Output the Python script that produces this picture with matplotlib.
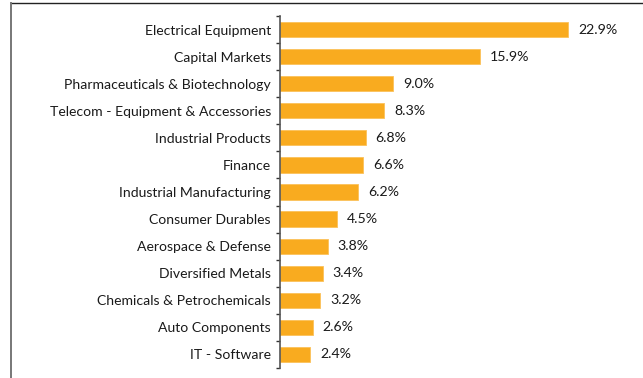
import matplotlib
matplotlib.use("Agg")
import matplotlib.pyplot as plt
from matplotlib.lines import Line2D
import numpy as np

sectors = [
    "Electrical Equipment",
    "Capital Markets",
    "Pharmaceuticals & Biotechnology",
    "Telecom - Equipment & Accessories",
    "Industrial Products",
    "Finance",
    "Industrial Manufacturing",
    "Consumer Durables",
    "Aerospace & Defense",
    "Diversified Metals",
    "Chemicals & Petrochemicals",
    "Auto Components",
    "IT - Software",
]
weights = [22.9, 15.9, 9.0, 8.3, 6.8, 6.6, 6.2, 4.5, 3.8, 3.4, 3.2, 2.6, 2.4]

plt.rcParams["font.family"] = ["Lato", "DejaVu Sans"]

W, H = 643, 378
fig = plt.figure(figsize=(W / 100, H / 100), dpi=100)
ax = fig.add_axes([280 / W, 1 - 368 / H, 340 / W, 352 / H])

n = len(sectors)
y = np.arange(n)
ax.barh(y, weights, height=0.56, color="#F9AB1F", edgecolor="#FBC15A", linewidth=0.6)

ax.set_xlim(0, 340 / 12.58)
ax.set_ylim(n - 0.5, -0.5)

for yi, v in zip(y, weights):
    ax.annotate(f"{v:.1f}%", (v, yi), xytext=(10, 0), textcoords="offset pixels",
                va="center", ha="left", fontsize=10.2, color="#1a1a1a")

ax.set_yticks(y)
ax.set_yticklabels(sectors, fontsize=10.1, color="#1a1a1a")
ax.tick_params(axis="y", which="major", length=0, pad=6.5)
ax.set_yticks(np.arange(n + 1) - 0.5, minor=True)
ax.tick_params(axis="y", which="minor", length=3, width=1.0, color="#333333", direction="out")
ax.set_xticks([])

for s in ("top", "right", "bottom"):
    ax.spines[s].set_visible(False)
ax.spines["left"].set_color("#555555")
ax.spines["left"].set_linewidth(1.2)

# outer frame: top and left edges
fig.add_artist(Line2D([11 / W, 1], [1 - 3 / H, 1 - 3 / H], transform=fig.transFigure,
                      color="#222222", linewidth=1.0))
fig.add_artist(Line2D([11 / W, 11 / W], [0, 1 - 3 / H], transform=fig.transFigure,
                      color="#777777", linewidth=1.4))

fig.savefig("out.png", dpi=100, facecolor="white")
